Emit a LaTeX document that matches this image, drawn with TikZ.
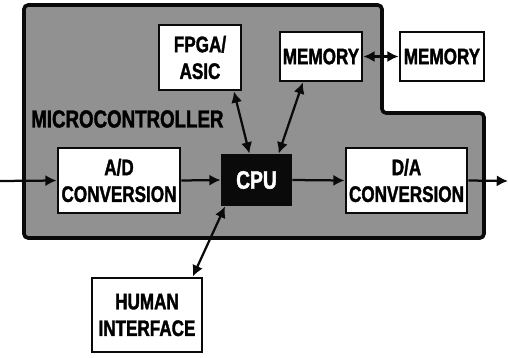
\documentclass[tikz,border=0pt]{standalone}
\usepackage{fontspec}
\setmainfont{Liberation Sans}[FakeStretch=0.76,BoldFeatures={FakeBold=1.5}]
\usepackage{tikz}
\usetikzlibrary{arrows.meta}
\definecolor{figline}{RGB}{10,10,10}
\definecolor{figpanel}{RGB}{145,145,145}
\tikzset{
  mcu/.style  ={draw=figline, fill=figpanel, line width=2.6pt, rounded corners=3pt},
  blk/.style  ={draw=figline, fill=white, line width=2pt, align=center, font=\fontsize{16}{19}\selectfont\bfseries, inner sep=0pt},
  cpub/.style ={draw=figline, fill=figline, text=white, line width=2pt, font=\fontsize{18}{20}\selectfont\bfseries, inner sep=0pt},
  lab/.style  ={font=\fontsize{17.5}{20}\selectfont\bfseries, inner sep=0pt},
  ptr/.style  ={draw=figline, line width=1.6pt, -{Latex[length=8pt,width=8pt]}},
  dptr/.style ={draw=figline, line width=1.6pt, {Latex[length=8pt,width=8pt]}-{Latex[length=8pt,width=8pt]}},
}
\begin{document}
\begin{tikzpicture}[x=0.025cm,y=-0.025cm]
  \useasboundingbox (0,0) rectangle (508,357);
  % microcontroller outline
  \draw[mcu] (24,5) -- (382,5) -- (382,113) -- (484,113) -- (484,238) -- (24,238) -- cycle;
  \node[lab,anchor=west] (mculab) at (31,119) {MICROCONTROLLER};
  % blocks
  \node[blk,minimum width=3.05cm,minimum height=1.625cm] (ad) at (119,180.5) {A/D\\CONVERSION};
  \node[cpub,minimum width=1.725cm,minimum height=1.25cm] (cpu) at (256.5,180) {CPU};
  \node[blk,minimum width=3.025cm,minimum height=1.625cm] (da) at (406.5,180.5) {D/A\\CONVERSION};
  \node[blk,minimum width=2.05cm,minimum height=1.625cm] (fpga) at (200,57.5) {FPGA/\\ASIC};
  \node[blk,minimum width=2.05cm,minimum height=1.225cm] (mem) at (321,56.5) {MEMORY};
  \node[blk,minimum width=2.1cm,minimum height=1.225cm] (extmem) at (442,56.5) {MEMORY};
  \node[blk,minimum width=2.75cm,minimum height=1.85cm] (hmi) at (147,315) {HUMAN\\INTERFACE};
  \coordinate (in) at (0,181);
  \coordinate (out) at (508,181);
  % signal path
  \draw[ptr] (in) -- (ad.west);
  \draw[ptr] (ad.east) -- (cpu.west);
  \draw[ptr] (cpu.east) -- (da.west);
  \draw[ptr] (da.east) -- (out);
  % buses
  \draw[dptr] (fpga.-45) -- (cpu.105);
  \draw[dptr] (mem.235) -- (cpu.50);
  \draw[dptr] (mem.east) -- (extmem.west);
  \draw[dptr] (hmi.40) -- (cpu.-140);
\end{tikzpicture}
\end{document}
